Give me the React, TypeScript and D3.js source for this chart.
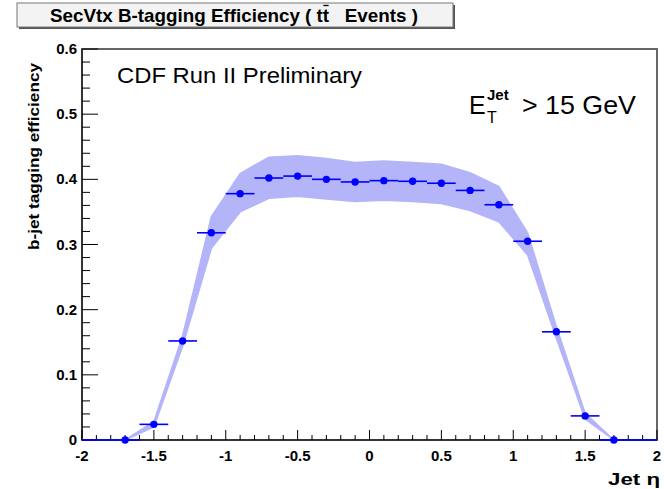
import React, { useLayoutEffect, useRef, useState } from "react";
import * as d3 from "d3";

// Jet eta bin centres (bin width 0.2)
const etaCenters = [-1.9, -1.7, -1.5, -1.3, -1.1, -0.9, -0.7, -0.5, -0.3, -0.1, 0.1, 0.3, 0.5, 0.7, 0.9, 1.1, 1.3, 1.5, 1.7, 1.9];
// Measured b-tagging efficiency per bin (null = no tagged jets in the bin)
const efficiency: (number | null)[] = [null, 0, 0.024, 0.152, 0.318, 0.378, 0.402, 0.405, 0.4, 0.396, 0.398, 0.397, 0.394, 0.383, 0.361, 0.305, 0.166, 0.037, 0, null];
// Systematic uncertainty band, upper and lower edges
const bandUpper: (number | null)[] = [null, 0, 0.028, 0.16, 0.343, 0.409, 0.434, 0.436, 0.432, 0.426, 0.428, 0.426, 0.423, 0.41, 0.389, 0.318, 0.174, 0.041, 0, null];
const bandLower: (number | null)[] = [null, 0, 0.02, 0.144, 0.294, 0.35, 0.371, 0.374, 0.37, 0.366, 0.368, 0.366, 0.363, 0.352, 0.335, 0.284, 0.156, 0.032, 0, null];
const binHalfWidth = 0.1;

const xMajorTicks = [-2, -1.5, -1, -0.5, 0, 0.5, 1, 1.5, 2];
const xTickLabels = ["-2", "-1.5", "-1", "-0.5", "0", "0.5", "1", "1.5", "2"];
const yMajorTicks = [0, 0.1, 0.2, 0.3, 0.4, 0.5, 0.6];
const yTickLabels = ["0", "0.1", "0.2", "0.3", "0.4", "0.5", "0.6"];

const titleText = "SecVtx B-tagging Efficiency ( tt\u00a0\u00a0 Events )";
// index of the anti-top "t" that carries the bar
const barredCharIndex = titleText.indexOf("tt") + 1;

const W = 664;
const H = 489;
const FONT = "'Liberation Sans', Arial, Helvetica, sans-serif";

export default function App() {
  const x = d3.scaleLinear().domain([-2, 2]).range([82, 657]);
  const y = d3.scaleLinear().domain([0, 0.6]).range([440, 49]);

  const titleRef = useRef<SVGTextElement>(null);
  const [bar, setBar] = useState<{ x1: number; x2: number } | null>(null);
  useLayoutEffect(() => {
    const el = titleRef.current;
    if (!el) return;
    try {
      const box = el.getExtentOfChar(barredCharIndex);
      setBar({ x1: box.x + 0.5, x2: box.x + box.width - 0.5 });
    } catch (e) {
      setBar(null);
    }
  }, []);

  const xMinor = d3.range(-2, 2.0001, 0.1).map((v) => Math.round(v * 10) / 10);
  const yMinor = d3.range(0, 0.6001, 0.02).map((v) => Math.round(v * 100) / 100);

  const bandIdx = etaCenters.map((_, i) => i).filter((i) => bandUpper[i] !== null);
  const area = d3
    .area<number>()
    .x((i) => x(etaCenters[i]))
    .y0((i) => y(bandLower[i] as number))
    .y1((i) => y(bandUpper[i] as number));
  const line = d3
    .line<number>()
    .x((i) => x(etaCenters[i]))
    .y((i) => y(efficiency[i] as number));

  const blue = "#0000ff";
  const bandColor = "#b4b4f8";

  return (
    <svg width={W} height={H} style={{ position: "absolute", left: 0, top: 0, background: "#fff" }}>
      {/* title box */}
      <rect x={19} y={5} width={436} height={24} fill="#555" />
      <rect x={17} y={3} width={436} height={24} fill="#f3f3f3" stroke="#777" strokeWidth={1} />
      <text
        ref={titleRef}
        x={50}
        y={22}
        fontFamily={FONT}
        fontWeight="bold"
        fontSize={19}
        textLength={368}
        lengthAdjust="spacingAndGlyphs"
      >
        {titleText}
      </text>
      {bar && <line x1={bar.x1} x2={bar.x2} y1={5.5} y2={5.5} stroke="#000" strokeWidth={1.3} />}

      {/* uncertainty band */}
      <path d={area(bandIdx) || ""} fill={bandColor} stroke={bandColor} strokeWidth={1.5} />
      <path d={line(bandIdx) || ""} fill="none" stroke={bandColor} strokeWidth={1} />

      {/* frame */}
      <rect x={x(-2)} y={y(0.6)} width={x(2) - x(-2)} height={y(0) - y(0.6)} fill="none" stroke="#666" strokeWidth={2} />

      {/* x axis */}
      <line x1={x(-2)} x2={x(2)} y1={y(0)} y2={y(0)} stroke="#000" strokeWidth={1} />
      {xMinor.map((v) => {
        const major = xMajorTicks.some((m) => Math.abs(m - v) < 1e-6);
        return <line key={"xm" + v} x1={x(v)} x2={x(v)} y1={y(0)} y2={y(0) - (major ? 10 : 5)} stroke="#000" strokeWidth={1} />;
      })}
      {xMajorTicks.map((v, i) => (
        <text key={"xl" + v} x={x(v)} y={461} textAnchor="middle" fontFamily={FONT} fontWeight="bold" fontSize={15}>
          {xTickLabels[i]}
        </text>
      ))}
      <text x={660} y={485} textAnchor="end" fontFamily={FONT} fontWeight="bold" fontSize={17} textLength={52} lengthAdjust="spacingAndGlyphs">
        Jet η
      </text>

      {/* y axis */}
      <line x1={x(-2)} x2={x(-2)} y1={y(0)} y2={y(0.6)} stroke="#000" strokeWidth={1} />
      {yMinor.map((v) => {
        const major = yMajorTicks.some((m) => Math.abs(m - v) < 1e-6);
        return <line key={"ym" + v} x1={x(-2)} x2={x(-2) + (major ? 16 : 8)} y1={y(v)} y2={y(v)} stroke="#000" strokeWidth={1} />;
      })}
      {yMajorTicks.map((v, i) => (
        <text key={"yl" + v} x={77} y={y(v) + 5} textAnchor="end" fontFamily={FONT} fontWeight="bold" fontSize={15}>
          {yTickLabels[i]}
        </text>
      ))}
      <text
        transform="translate(39,63) rotate(-90)"
        textAnchor="end"
        fontFamily={FONT}
        fontWeight="bold"
        fontSize={14}
        textLength={187}
        lengthAdjust="spacingAndGlyphs"
      >
        b-jet tagging efficiency
      </text>

      {/* data points with bin-width error bars */}
      {etaCenters.map((eta, i) => {
        const v = efficiency[i];
        const yy = y(v === null ? 0 : v);
        return (
          <g key={"p" + eta}>
            <line x1={x(eta - binHalfWidth)} x2={x(eta + binHalfWidth)} y1={yy} y2={yy} stroke={blue} strokeWidth={1.6} />
            {v !== null && <circle cx={x(eta)} cy={yy} r={3.7} fill={blue} />}
          </g>
        );
      })}

      {/* annotations */}
      <text x={117} y={83} fontFamily={FONT} fontSize={22} textLength={245} lengthAdjust="spacingAndGlyphs">
        CDF Run II Preliminary
      </text>
      <text x={469} y={114} fontFamily={FONT} fontSize={25}>E</text>
      <text x={487} y={100} fontFamily={FONT} fontSize={15} fontWeight="bold">Jet</text>
      <text x={487} y={123} fontFamily={FONT} fontSize={16}>T</text>
      <text x={636} y={114} textAnchor="end" fontFamily={FONT} fontSize={25} textLength={114} lengthAdjust="spacingAndGlyphs">
        &gt; 15 GeV
      </text>
    </svg>
  );
}
